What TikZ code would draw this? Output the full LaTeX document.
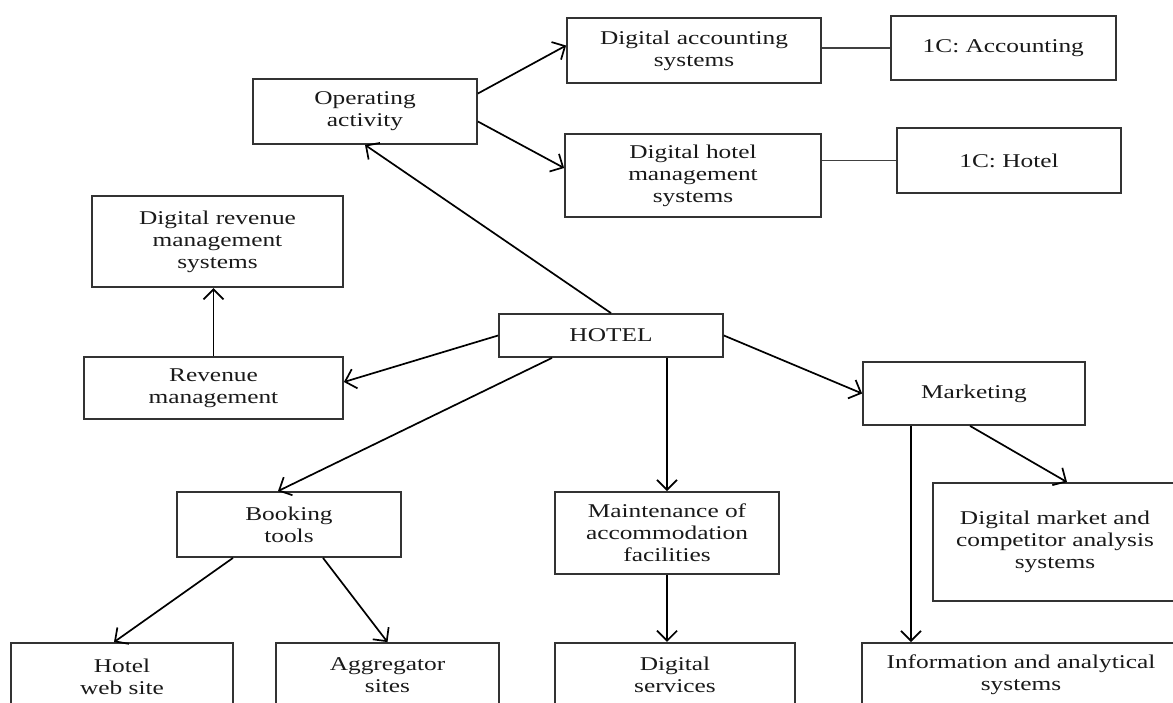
\documentclass[tikz,border=0pt]{standalone}
\usepackage{fontspec}
\setmainfont{Liberation Serif}[FakeStretch=1.3]
\usetikzlibrary{positioning,arrows.meta}

\tikzset{
  box/.style 2 args={draw=black!80, line width=1.8pt, align=center, inner sep=0pt,
    text=black!90, minimum width=#1, minimum height=#2,
    font=\fontsize{19.5}{22}\selectfont},
  link/.style={line width=1.7pt, -{Straight Barb[length=10pt,width=20pt]}},
  plain/.style={line width=1.6pt, draw=black!75},
}

\begin{document}
\begin{tikzpicture}[x=1pt,y=-1pt]
  \useasboundingbox (0,0) rectangle (1173,702);
  \clip (0,0) rectangle (1173,702);

  % operating branch
  \node[box={224pt}{65pt}] (op) at (365,111.5) {Operating\\activity};
  \node[box={254pt}{65pt}] (acc) at (694,50.5) {Digital accounting\\systems};
  \node[box={256pt}{83pt}] (hms) at (693,175.5) {Digital hotel\\management\\systems};
  \node[box={225pt}{64pt}, right=68pt of acc, yshift=2.5pt] (c1acc) {1C: Accounting};
  \node[box={224pt}{65pt}] (c1hot) at (1009,160.5) {1C: Hotel};

  \node[box={224pt}{43pt}] (hotel) at (611,335.5) {HOTEL};

  % revenue
  \node[box={259pt}{62pt}] (revm) at (213.5,388) {Revenue\\management};
  \node[box={251pt}{91pt}, above=68pt of revm, xshift=4pt] (drm) {Digital revenue\\management\\systems};

  % lower row
  \node[box={224pt}{65pt}] (book) at (289,524.5) {Booking\\tools};
  \node[box={224pt}{82pt}] (maint) at (667,533) {Maintenance of\\accommodation\\facilities};
  \node[box={222pt}{63pt}] (mkt) at (974,393.5) {Marketing};
  \node[box={244pt}{118pt}] (dmca) at (1055,542) {Digital market and\\competitor analysis\\systems};
  \node[box={222pt}{68pt}] (hws) at (122,677) {Hotel\\web site};
  \node[box={223pt}{64pt}] (agg) at (387.5,675) {Aggregator\\sites};
  \node[box={240pt}{64pt}, below=67pt of maint, xshift=8pt] (dserv) {Digital\\services};
  \node[box={318pt}{64pt}] (info) at (1021,675) {Information and analytical\\systems};

  \coordinate (mk) at ([xshift=-63pt]mkt.south);

  \draw[link] (hotel.north) -- (op.south);
  \draw[link] ([yshift=18pt]op.east) -- ([yshift=5pt]acc.west);
  \draw[link] ([yshift=-10pt]op.east) -- ([yshift=7.5pt]hms.west);
  \draw[plain] (c1acc.west -| acc.east) -- (c1acc.west);
  \draw[plain] (c1hot.west -| hms.east) -- (c1hot.west);

  \draw[link] (hotel.west) -- ([yshift=6pt]revm.east);
  \draw[link] (revm.north) -- (revm.north |- drm.south);

  \draw[link] ([xshift=-59pt]hotel.south) -- ([xshift=-11pt]book.north);
  \draw[link] (maint.north |- hotel.south) -- (maint.north);
  \draw[link] (maint.south) -- (maint.south |- dserv.north);
  \draw[link] (hotel.east) -- (mkt.west);
  \draw[link] ([xshift=-4pt]mkt.south) -- ([xshift=12pt]dmca.north);
  \draw[link] (mk) -- (mk |- info.north);

  \draw[link] ([xshift=-56pt]book.south) -- ([xshift=-8pt]hws.north);
  \draw[link] ([xshift=34pt]book.south) -- (agg.north);
\end{tikzpicture}
\end{document}
